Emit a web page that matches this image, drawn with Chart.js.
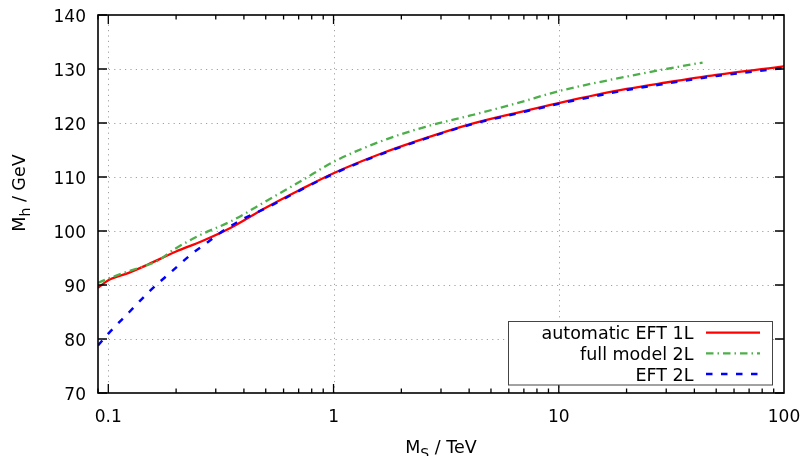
<!DOCTYPE html>
<html>
<head>
<meta charset="utf-8">
<script src="https://cdn.jsdelivr.net/npm/chart.js@4.4.1/dist/chart.umd.min.js"></script>
<style>
  html, body { margin: 0; padding: 0; background: #fff; }
  #wrap { width: 805px; height: 456px; }
</style>
</head>
<body>
<div id="wrap"><canvas id="chart" width="805" height="456"></canvas></div>
<script>
// values
const msEft1L = [0.09, 0.1, 0.124, 0.15, 0.2, 0.26, 0.35, 0.5, 0.7, 1, 1.62, 2.56, 4.06, 6.44, 10, 20, 30, 50, 100];
const mhEft1L = [89.5, 90.9, 92.3, 93.8, 96.2, 98.1, 100.6, 104.3, 107.5, 110.7, 114.3, 117.2, 119.8, 121.85, 123.7, 126.3, 127.5, 128.9, 130.5];

const msFull2L = [0.09, 0.1, 0.124, 0.166, 0.196, 0.26, 0.35, 0.51, 0.72, 1, 1.62, 2.56, 4.06, 6.44, 10, 20, 30, 43.5];
const mhFull2L = [90.4, 91.2, 92.6, 94.5, 96.6, 99.4, 101.8, 105.7, 109.3, 112.8, 116.6, 119.3, 121.4, 123.6, 125.9, 128.6, 130.0, 131.2];

const msEft2L = [0.09, 0.1, 0.124, 0.152, 0.19, 0.237, 0.27, 0.31, 0.395, 0.5, 0.7, 1, 1.62, 2.56, 4.06, 6.44, 10, 20, 30, 50, 100];
const mhEft2L = [78.8, 81.0, 85.0, 88.8, 92.4, 95.9, 97.6, 99.5, 102.2, 104.2, 107.4, 110.6, 114.2, 117.1, 119.7, 121.7, 123.55, 126.1, 127.3, 128.7, 130.2];

const xTicks = [0.1, 1, 10, 100];
const xTickLabels = ['0.1', '1', '10', '100'];
const yTicks = [70, 80, 90, 100, 110, 120, 130, 140];
const seriesNames = ['automatic EFT 1L', 'full model 2L', 'EFT 2L'];

const FONT = '"DejaVu Sans", "Liberation Sans", sans-serif';

function toPoints(xs, ys) {
  return xs.map((x, i) => ({ x: x, y: ys[i] }));
}

function drawRich(ctx, parts, x, y, size, align) {
  const subSize = size * 0.8;
  let total = 0;
  parts.forEach(p => {
    ctx.font = (p.sub ? subSize : size) + 'px ' + FONT;
    p.w = ctx.measureText(p.t).width;
    total += p.w;
  });
  let cx = align === 'center' ? x - total / 2 : x;
  ctx.textAlign = 'left';
  ctx.textBaseline = 'alphabetic';
  parts.forEach(p => {
    ctx.font = (p.sub ? subSize : size) + 'px ' + FONT;
    ctx.fillText(p.t, cx, p.sub ? y + 5 : y);
    cx += p.w;
  });
}

const framePlugin = {
  id: 'frame',
  beforeDatasetsDraw(chart) {
    const { ctx, chartArea: a, scales: { x, y } } = chart;
    ctx.save();
    ctx.strokeStyle = '#a0a0a0';
    ctx.lineWidth = 1;
    ctx.setLineDash([1.2, 4.2]);
    xTicks.forEach(v => {
      const px = Math.round(x.getPixelForValue(v)) + 0.5;
      if (px > a.left + 2 && px < a.right - 2) {
        ctx.beginPath(); ctx.moveTo(px, a.bottom); ctx.lineTo(px, a.top); ctx.stroke();
      }
    });
    yTicks.forEach(v => {
      const py = Math.round(y.getPixelForValue(v)) + 0.5;
      if (py > a.top + 2 && py < a.bottom - 2) {
        ctx.beginPath(); ctx.moveTo(a.left, py); ctx.lineTo(a.right, py); ctx.stroke();
      }
    });
    ctx.restore();
  },
  afterDatasetsDraw(chart) {
    const { ctx, chartArea: a, scales: { x, y } } = chart;
    ctx.save();
    ctx.strokeStyle = '#000';
    ctx.lineWidth = 1.3;
    ctx.setLineDash([]);

    // x ticks, major and minor, bottom and top, inward
    const decades = [0.01, 0.1, 1, 10];
    decades.forEach(d => {
      for (let k = 1; k <= 9; k++) {
        const v = d * k;
        if (v < x.min || v > x.max) continue;
        const px = x.getPixelForValue(v);
        const len = k === 1 ? 9 : 4.5;
        ctx.beginPath();
        ctx.moveTo(px, a.bottom); ctx.lineTo(px, a.bottom - len);
        ctx.moveTo(px, a.top); ctx.lineTo(px, a.top + len);
        ctx.stroke();
      }
    });
    // y ticks, left and right, inward
    yTicks.forEach(v => {
      const py = y.getPixelForValue(v);
      ctx.beginPath();
      ctx.moveTo(a.left, py); ctx.lineTo(a.left + 9, py);
      ctx.moveTo(a.right, py); ctx.lineTo(a.right - 9, py);
      ctx.stroke();
    });

    // frame
    ctx.lineWidth = 1.6;
    ctx.strokeRect(a.left, a.top, a.right - a.left, a.bottom - a.top);

    // tick labels
    ctx.fillStyle = '#000';
    ctx.font = '17px ' + FONT;
    ctx.textAlign = 'right';
    ctx.textBaseline = 'alphabetic';
    yTicks.forEach(v => {
      ctx.fillText(String(v), a.left - 12, y.getPixelForValue(v) + 7);
    });
    ctx.textAlign = 'center';
    xTicks.forEach((v, i) => {
      ctx.fillText(xTickLabels[i], x.getPixelForValue(v), a.bottom + 29);
    });

    // axis titles
    drawRich(ctx, [{ t: 'M' }, { t: 'S', sub: true }, { t: ' / TeV' }], 441, 452.5, 17.5, 'center');
    ctx.save();
    ctx.translate(25, 193);
    ctx.rotate(-Math.PI / 2);
    drawRich(ctx, [{ t: 'M' }, { t: 'h', sub: true }, { t: ' / GeV' }], 0, 0, 17.5, 'center');
    ctx.restore();

    // legend box
    const lx = 508.5, ly = 321.5, lw = 264, lh = 63.5;
    ctx.fillStyle = '#fff';
    ctx.fillRect(lx, ly, lw, lh);
    ctx.strokeStyle = '#444';
    ctx.lineWidth = 1;
    ctx.strokeRect(lx, ly, lw, lh);
    const rows = [332.7, 353.3, 374];
    ctx.font = '17.5px ' + FONT;
    ctx.textAlign = 'right';
    chart.data.datasets.forEach((ds, i) => {
      ctx.fillStyle = '#000';
      ctx.fillText(seriesNames[i], 693.5, rows[i] + 6.5);
      ctx.strokeStyle = ds.borderColor;
      ctx.lineWidth = ds.borderWidth;
      ctx.setLineDash(ds.borderDash || []);
      ctx.beginPath();
      ctx.moveTo(706, rows[i]); ctx.lineTo(760, rows[i]);
      ctx.stroke();
    });
    ctx.restore();
  }
};

new Chart(document.getElementById('chart'), {
  type: 'line',
  data: {
    datasets: [
      {
        label: seriesNames[0],
        data: toPoints(msEft1L, mhEft1L),
        borderColor: '#ff0000',
        borderWidth: 2.3,
        pointRadius: 0,
        cubicInterpolationMode: 'monotone',
        order: 2
      },
      {
        label: seriesNames[1],
        data: toPoints(msFull2L, mhFull2L),
        borderColor: '#4daf4a',
        borderWidth: 2.3,
        borderDash: [7.5, 4, 1.5, 4],
        pointRadius: 0,
        cubicInterpolationMode: 'monotone',
        order: 1
      },
      {
        label: seriesNames[2],
        data: toPoints(msEft2L, mhEft2L),
        borderColor: '#0000ff',
        borderWidth: 2.5,
        borderDash: [6.5, 8.5],
        pointRadius: 0,
        cubicInterpolationMode: 'monotone',
        order: 0
      }
    ]
  },
  options: {
    responsive: false,
    animation: false,
    devicePixelRatio: 1,
    layout: { padding: { top: 15, right: 21, left: 0, bottom: 0 } },
    plugins: {
      legend: { display: false },
      tooltip: { enabled: false }
    },
    scales: {
      x: {
        type: 'logarithmic',
        min: 0.09,
        max: 100,
        ticks: { display: false },
        grid: { display: false },
        border: { display: false },
        afterFit: s => { s.height = 63; }
      },
      y: {
        type: 'linear',
        min: 70,
        max: 140,
        ticks: { display: false, stepSize: 10 },
        grid: { display: false },
        border: { display: false },
        afterFit: s => { s.width = 98; }
      }
    }
  },
  plugins: [framePlugin]
});
</script>
</body>
</html>
